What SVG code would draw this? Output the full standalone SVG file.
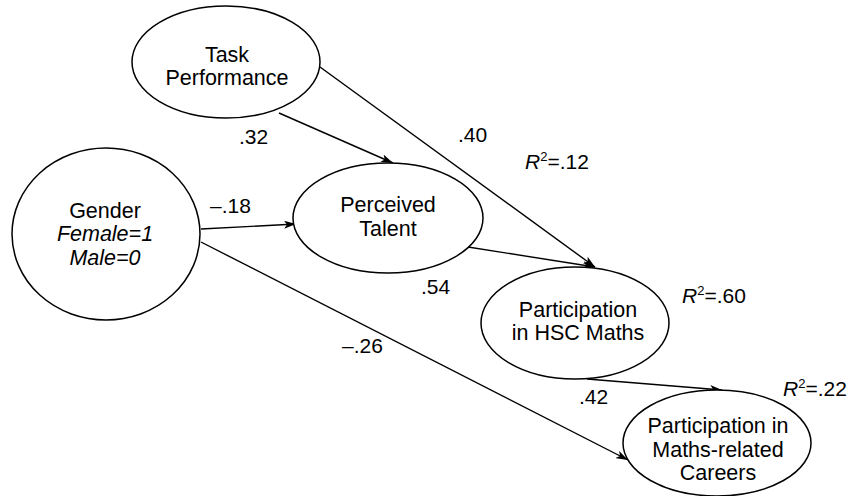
<svg xmlns="http://www.w3.org/2000/svg" width="853" height="496" viewBox="0 0 853 496">
  <style>
    .node ellipse { fill: #ffffff; stroke: #000000; stroke-width: 1.5; }
    .node text { font-family: "Liberation Sans", Arial, sans-serif; font-size: 21.5px; fill: #000000; text-anchor: middle; }
    .edge { stroke: #000000; stroke-width: 1.4; fill: none; marker-end: url(#arrow); }
    .lbl { font-family: "Liberation Sans", Arial, sans-serif; font-size: 21px; fill: #000000; }
    .it { font-style: italic; }
  </style>
  <defs>
    <marker id="arrow" viewBox="0 0 12 8" refX="12" refY="4" markerWidth="12" markerHeight="8" markerUnits="userSpaceOnUse" orient="auto">
      <path d="M0,0 L12,4 L0,8 L3,4 Z" fill="#000000"/>
    </marker>
  </defs>
  <rect x="0" y="0" width="853" height="496" fill="#ffffff"/>

  <g id="connectors">
    <line class="edge" x1="279" y1="113" x2="393" y2="163"/>
    <line class="edge" x1="320" y1="67" x2="595" y2="267"/>
    <line class="edge" x1="468" y1="247" x2="595" y2="267"/>
    <line class="edge" x1="201" y1="229" x2="296" y2="224"/>
    <line class="edge" x1="201" y1="242" x2="628" y2="460"/>
    <line class="edge" x1="587" y1="379" x2="722" y2="390"/>
  </g>

  <g id="task-performance" class="node">
    <ellipse cx="226" cy="62" rx="94" ry="56"/>
    <text x="227" y="62">Task</text>
    <text x="227" y="85">Performance</text>
  </g>

  <g id="gender" class="node">
    <ellipse cx="106" cy="234" rx="94" ry="86"/>
    <text x="105" y="218">Gender</text>
    <text x="105" y="241" class="it">Female=1</text>
    <text x="105" y="265" class="it">Male=0</text>
  </g>

  <g id="perceived-talent" class="node">
    <ellipse cx="388" cy="218" rx="95" ry="55"/>
    <text x="388" y="212">Perceived</text>
    <text x="388" y="236">Talent</text>
  </g>

  <g id="participation-hsc" class="node">
    <ellipse cx="575" cy="323" rx="94" ry="56"/>
    <text x="578" y="317">Participation</text>
    <text x="578" y="340">in HSC Maths</text>
  </g>

  <g id="participation-careers" class="node">
    <ellipse cx="717" cy="443" rx="94" ry="53"/>
    <text x="718" y="433">Participation in</text>
    <text x="718" y="457">Maths-related</text>
    <text x="718" y="480">Careers</text>
  </g>

  <g id="labels">
    <text class="lbl" x="239" y="144">.32</text>
    <text class="lbl" x="458" y="142">.40</text>
    <text class="lbl" x="210" y="213">–.18</text>
    <text class="lbl" x="421" y="294">.54</text>
    <text class="lbl" x="342" y="353">–.26</text>
    <text class="lbl" x="579" y="404">.42</text>
    <text class="lbl" x="525" y="169"><tspan class="it">R</tspan><tspan font-size="13" dy="-8">2</tspan><tspan dy="8">=.12</tspan></text>
    <text class="lbl" x="682" y="303"><tspan class="it">R</tspan><tspan font-size="13" dy="-8">2</tspan><tspan dy="8">=.60</tspan></text>
    <text class="lbl" x="783" y="396"><tspan class="it">R</tspan><tspan font-size="13" dy="-8">2</tspan><tspan dy="8">=.22</tspan></text>
  </g>
</svg>
